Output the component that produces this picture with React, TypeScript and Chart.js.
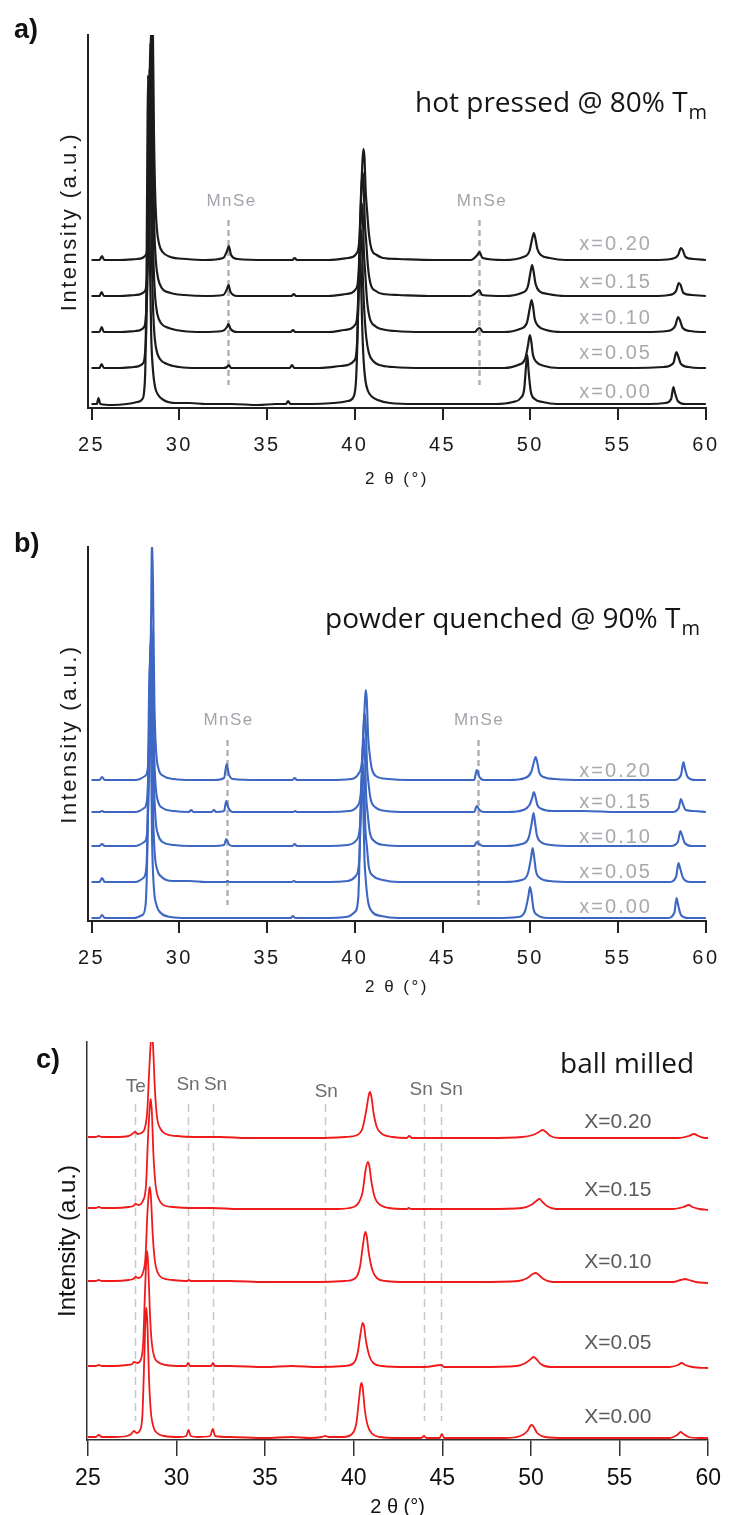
import React, { useEffect, useRef } from "react";
import { Chart, registerables } from "chart.js";

Chart.register(...registerables);

type Pt = [number, number];

// ---------- shared axis data ----------
const X_TICKS = [25, 30, 35, 40, 45, 50, 55, 60];
const X_LABELS_LOWER = ["x=0.00", "x=0.05", "x=0.10", "x=0.15", "x=0.20"];
const X_LABELS_UPPER = ["X=0.00", "X=0.05", "X=0.10", "X=0.15", "X=0.20"];

// ---------- a) hot pressed @ 80% Tm (2θ, intensity above own baseline) ----------
const hotPressed000: Pt[] = [[25,1],[25.3,1],[25.4,7],[25.5,1],[26.2,0],[27,1],[27.6,3],[27.9,6],[28.0,14],[28.07,40],[28.13,120],[28.18,250],[28.22,330],[28.27,260],[28.33,140],[28.4,70],[28.5,35],[28.62,18],[28.8,10],[29.1,5],[29.8,2],[30.6,2],[31.5,1],[33,1],[34.5,0],[35.5,1],[36.08,1],[36.2,4],[36.32,1],[37.5,1],[38.8,2],[39.6,4],[39.95,9],[40.07,25],[40.15,65],[40.22,120],[40.28,150],[40.34,135],[40.41,85],[40.5,45],[40.6,25],[40.75,14],[41.0,8],[41.3,5],[42,2],[43.5,1],[45,1],[46.5,1],[48,1],[49,3],[49.45,7],[49.65,16],[49.76,40],[49.83,50],[49.9,34],[50.02,14],[50.25,6],[50.7,3],[51.5,1],[53,1],[55,1],[56.8,1],[57.7,2],[58.02,6],[58.15,18],[58.24,12],[58.4,4],[58.8,1],[59.5,1],[60,1]];
const hotPressed005: Pt[] = [[25,1],[25.45,1],[25.58,5],[25.7,1],[26.5,1],[27.4,2],[27.95,6],[28.05,16],[28.13,45],[28.2,130],[28.26,240],[28.3,300],[28.35,250],[28.41,140],[28.48,75],[28.57,38],[28.7,19],[28.9,10],[29.3,5],[30,2],[31,1],[32.5,1],[32.72,2],[32.82,4],[32.95,1],[34,1],[35.5,1],[36.3,1],[36.42,4],[36.55,1],[38,1],[39.2,3],[40.0,9],[40.12,24],[40.2,65],[40.28,115],[40.34,140],[40.4,128],[40.47,85],[40.55,55],[40.65,32],[40.8,16],[41.1,7],[41.4,4],[42.2,2],[44,1],[46,1],[47.05,1],[48.5,1],[49.3,4],[49.7,10],[49.87,24],[49.97,34],[50.05,28],[50.15,14],[50.35,7],[50.8,3],[51.6,1],[53.5,1],[56,1],[57.6,2],[58.15,6],[58.32,17],[58.42,13],[58.58,5],[59,2],[59.6,1],[60,1]];
const hotPressed010: Pt[] = [[25,1],[25.45,1],[25.58,6],[25.7,1],[26.6,1],[27.5,2],[28.0,6],[28.1,17],[28.18,48],[28.25,135],[28.31,250],[28.35,290],[28.4,240],[28.46,135],[28.53,72],[28.62,37],[28.75,19],[28.95,10],[29.4,5],[30.2,2],[31.3,1],[32.45,2],[32.72,6],[32.8,9],[32.92,4],[33.3,1],[35,1],[36.35,1],[36.48,3],[36.6,1],[38.5,1],[39.4,3],[40.05,9],[40.17,25],[40.25,68],[40.33,110],[40.39,130],[40.45,120],[40.52,80],[40.6,58],[40.7,32],[40.85,15],[41.15,7],[41.5,4],[42.3,2],[44,1],[45.5,1],[46.85,1],[47.0,4],[47.12,5],[47.3,1],[48.5,1],[49.4,4],[49.8,10],[49.97,25],[50.07,33],[50.15,27],[50.25,14],[50.45,7],[50.9,3],[51.8,1],[54,1],[56.5,1],[57.8,2],[58.25,7],[58.42,16],[58.52,13],[58.68,5],[59.1,2],[59.7,1],[60,1]];
const hotPressed015: Pt[] = [[25,1],[25.45,1],[25.58,5],[25.7,1],[26.6,1],[27.5,2],[28.05,6],[28.15,18],[28.23,50],[28.3,140],[28.36,240],[28.4,270],[28.45,230],[28.51,130],[28.58,68],[28.67,35],[28.8,18],[29.0,9],[29.5,4],[30.3,2],[31.5,1],[32.5,2],[32.72,8],[32.8,12],[32.92,5],[33.3,1],[35,1],[36.4,1],[36.52,3],[36.65,1],[38.5,1],[39.5,3],[40.1,9],[40.22,25],[40.3,68],[40.38,108],[40.44,125],[40.5,115],[40.57,75],[40.65,55],[40.75,30],[40.9,13],[41.2,6],[41.6,3],[42.5,2],[44.5,1],[46.6,1],[46.95,5],[47.08,7],[47.25,2],[48.5,1],[49.5,4],[49.85,10],[50.0,24],[50.1,32],[50.18,26],[50.3,13],[50.5,6],[51,3],[52,1],[54.5,1],[57,1],[57.9,2],[58.3,6],[58.46,14],[58.56,12],[58.72,4],[59.2,2],[60,1]];
const hotPressed020: Pt[] = [[25,1],[25.45,1],[25.6,5],[25.72,1],[26.6,1],[27.6,2],[28.1,6],[28.2,18],[28.28,50],[28.35,140],[28.41,230],[28.45,260],[28.5,225],[28.56,125],[28.63,65],[28.72,33],[28.85,17],[29.05,9],[29.5,4],[30.4,2],[31.5,1],[32.5,3],[32.72,10],[32.82,15],[32.95,6],[33.3,2],[35,1],[36.45,1],[36.57,3],[36.7,1],[38.5,1],[39.6,3],[40.15,9],[40.27,25],[40.35,65],[40.43,98],[40.49,112],[40.55,104],[40.62,70],[40.7,50],[40.8,28],[40.95,12],[41.25,6],[41.6,3],[42.5,2],[44.5,1],[46.6,1],[46.98,6],[47.1,9],[47.28,3],[48.5,1],[49.6,4],[49.95,10],[50.1,22],[50.2,28],[50.28,23],[50.4,12],[50.6,6],[51.1,3],[52,1],[54.5,1],[57,1],[58,2],[58.42,6],[58.58,13],[58.68,11],[58.84,4],[59.3,2],[60,1]];
const hotPressedOffsets = [0, 36, 72, 108, 144];
const hotPressedMnSe = [32.75, 47.05];

// ---------- b) powder quenched @ 90% Tm ----------
const quenched000: Pt[] = [[25,1],[25.45,1],[25.6,4],[25.75,1],[26.5,1],[27.4,1],[27.9,4],[28.08,14],[28.18,70],[28.26,200],[28.32,260],[28.38,190],[28.45,80],[28.55,32],[28.7,14],[28.95,6],[29.5,2],[30.5,1],[32,1],[34,1],[36.35,1],[36.48,3],[36.6,1],[38.5,1],[39.5,2],[40.0,7],[40.2,22],[40.32,100],[40.4,140],[40.47,120],[40.55,60],[40.62,40],[40.75,18],[41,7],[41.5,3],[42.5,1],[45,1],[48,1],[49.3,2],[49.7,8],[49.88,22],[49.98,32],[50.06,26],[50.18,10],[50.4,4],[51,1],[53,1],[56,1],[57.8,1],[58.2,6],[58.33,21],[58.42,14],[58.58,4],[59,1],[60,1]];
const quenched005: Pt[] = [[25,1],[25.45,1],[25.6,5],[25.75,1],[26.5,1],[27.5,1],[27.95,5],[28.12,15],[28.22,75],[28.3,190],[28.36,240],[28.42,180],[28.5,75],[28.6,30],[28.75,13],[29,6],[29.6,2],[30.6,2],[31.5,1],[32.65,1],[32.75,2],[32.85,1],[34.5,1],[36.4,1],[36.52,2],[36.65,1],[38.5,1],[39.6,2],[40.05,7],[40.25,22],[40.37,90],[40.45,120],[40.52,105],[40.6,55],[40.68,38],[40.8,16],[41.05,7],[41.6,3],[42.5,1],[45,1],[47,1],[48.5,1],[49.5,3],[49.85,9],[50.03,24],[50.13,35],[50.2,28],[50.32,12],[50.55,5],[51.1,2],[52.5,1],[55.5,1],[57.9,1],[58.3,6],[58.44,20],[58.53,15],[58.7,5],[59.1,1],[60,1]];
const quenched010: Pt[] = [[25,1],[25.45,1],[25.6,3],[25.75,1],[26.5,1],[27.5,1],[28,5],[28.17,14],[28.27,70],[28.35,175],[28.41,215],[28.47,165],[28.55,70],[28.65,28],[28.8,12],[29.05,5],[29.7,2],[30.6,1],[32,1],[32.55,2],[32.68,8],[32.78,4],[33,1],[34.5,1],[36.45,1],[36.57,3],[36.7,1],[38.5,1],[39.6,2],[40.1,7],[40.3,22],[40.43,85],[40.5,110],[40.57,95],[40.65,50],[40.73,34],[40.85,15],[41.1,6],[41.7,2],[42.8,1],[45,1],[46.8,1],[46.95,5],[47.08,3],[47.3,1],[48.6,1],[49.5,3],[49.9,9],[50.08,24],[50.18,34],[50.25,27],[50.37,12],[50.6,5],[51.2,2],[52.5,1],[55.5,1],[58,1],[58.4,5],[58.55,16],[58.64,12],[58.8,4],[59.2,1],[60,1]];
const quenched015: Pt[] = [[25,1],[25.45,1],[25.6,2],[25.75,1],[26.5,1],[27.5,1],[28,5],[28.17,14],[28.27,65],[28.36,160],[28.42,190],[28.48,150],[28.56,65],[28.66,26],[28.8,11],[29.05,5],[29.7,2],[30.55,1],[30.68,3],[30.8,1],[31.85,1],[31.97,3],[32.1,1],[32.55,2],[32.68,12],[32.8,5],[33.05,1],[34.5,1],[36.5,1],[36.6,2],[36.7,1],[38.5,1],[39.7,2],[40.15,7],[40.35,22],[40.48,80],[40.55,100],[40.62,88],[40.7,46],[40.78,30],[40.9,14],[41.15,6],[41.8,2],[43,1],[45,1],[46.8,1],[46.95,7],[47.1,3],[47.35,1],[48.7,1],[49.6,3],[49.95,8],[50.12,16],[50.2,21],[50.28,17],[50.4,8],[50.65,4],[51.3,2],[53,2],[55,1],[57,1],[58.1,1],[58.45,5],[58.58,14],[58.67,10],[58.85,3],[59.3,2],[60,1]];
const quenched020: Pt[] = [[25,1],[25.45,1],[25.6,4],[25.75,1],[26.5,1],[27.5,1],[28.05,5],[28.22,15],[28.32,70],[28.4,170],[28.44,245],[28.5,200],[28.58,80],[28.68,30],[28.82,12],[29.1,5],[29.7,2],[30.7,1],[32,1],[32.55,3],[32.7,17],[32.82,7],[33.05,2],[34.5,1],[36.45,1],[36.57,3],[36.7,1],[38.5,1],[39.8,2],[40.2,7],[40.42,22],[40.55,70],[40.62,91],[40.68,82],[40.76,44],[40.84,28],[40.96,13],[41.2,5],[41.9,2],[43,1],[45,1],[46.8,1],[46.95,11],[47.1,4],[47.35,1],[48.8,1],[49.7,3],[50.05,9],[50.22,20],[50.3,24],[50.38,20],[50.5,9],[50.75,4],[51.4,2],[53,1],[55.5,1],[58.2,1],[58.58,6],[58.72,19],[58.8,13],[58.96,4],[59.4,1],[60,1]];
const quenchedOffsets = [0, 36, 72, 106, 138];
const quenchedMnSe = [32.7, 47.0];

// ---------- c) ball milled ----------
const ballMilled000: Pt[] = [[25,2],[25.45,2],[25.6,4],[25.8,2],[26.5,2],[27.2,3],[27.45,5],[27.6,8],[27.75,6],[27.95,9],[28.08,25],[28.18,80],[28.26,125],[28.3,131],[28.36,115],[28.45,60],[28.55,28],[28.7,12],[28.9,6],[29.3,3],[30.2,2],[30.55,3],[30.68,9],[30.8,3],[31.2,2],[31.9,3],[32.05,10],[32.18,3],[33,2],[35,1],[36.5,2],[37.5,1],[38.2,2],[38.4,3],[38.6,2],[39.4,2],[39.9,5],[40.15,16],[40.3,40],[40.42,56],[40.5,52],[40.62,30],[40.78,14],[41,6],[41.5,2],[42.5,1],[43.8,1],[43.97,3],[44.1,1],[44.85,1],[44.97,5],[45.1,1],[46.5,1],[48.5,1],[49.4,3],[49.8,8],[50.02,14],[50.12,13],[50.35,6],[50.8,2],[52,1],[54,1],[56,1],[57.8,1],[58.25,4],[58.45,7],[58.6,5],[58.9,2],[59.5,1],[60,1]];
const ballMilled005: Pt[] = [[25,2],[25.45,2],[25.6,3],[25.8,2],[26.5,2],[27.2,3],[27.5,4],[27.62,6],[27.8,5],[28.0,9],[28.12,25],[28.22,75],[28.3,110],[28.35,117],[28.41,100],[28.5,55],[28.6,26],[28.75,11],[28.95,6],[29.4,3],[30.3,2],[30.55,2],[30.65,5],[30.78,2],[31.5,2],[31.95,2],[32.05,5],[32.17,2],[33,2],[35,1],[36.5,2],[38,1],[39.5,2],[40.0,5],[40.22,15],[40.38,34],[40.5,45],[40.58,42],[40.7,26],[40.88,12],[41.1,5],[41.6,2],[43,1],[44,1],[44.95,3],[45.1,1],[47,1],[49.2,2],[49.7,5],[50.0,9],[50.15,11],[50.3,9],[50.55,4],[51.1,1],[53,1],[56,1],[57.8,1],[58.3,3],[58.5,5],[58.7,3],[59.1,1],[60,0]];
const ballMilled010: Pt[] = [[25,2],[25.45,2],[25.6,3],[25.8,2],[26.5,2],[27.3,3],[27.55,4],[27.7,6],[27.85,5],[28.1,10],[28.25,26],[28.36,70],[28.45,92],[28.5,96],[28.56,85],[28.66,48],[28.78,22],[28.95,10],[29.2,5],[29.8,3],[30.6,2],[30.7,3],[30.8,2],[31.8,2],[33,2],[35,1],[36.5,1],[38,1],[39.5,2],[40.1,5],[40.35,16],[40.52,38],[40.65,51],[40.73,47],[40.85,30],[41.05,13],[41.3,5],[41.8,2],[43,1],[45,1],[47,1],[49.3,2],[49.8,5],[50.1,9],[50.28,10],[50.45,8],[50.7,4],[51.2,1],[53,1],[56,1],[58,1],[58.45,3],[58.7,4],[58.9,3],[59.3,1],[60,0]];
const ballMilled015: Pt[] = [[25,2],[25.45,2],[25.6,3],[25.8,2],[26.5,2],[27.3,3],[27.55,4],[27.7,6],[27.85,5],[28.1,9],[28.28,25],[28.4,75],[28.5,105],[28.55,111],[28.61,98],[28.7,55],[28.82,25],[29.0,11],[29.25,5],[29.8,3],[30.8,2],[32,2],[33.5,1],[35,1],[37,1],[39,1],[40,3],[40.3,8],[40.5,18],[40.67,40],[40.8,48],[40.88,44],[41.0,28],[41.2,12],[41.5,5],[42,2],[43,1],[43.1,2],[43.25,1],[45,1],[47.5,1],[49.5,2],[50.0,5],[50.3,9],[50.48,11],[50.65,8],[50.9,4],[51.4,1],[53,1],[56,1],[58,1],[58.6,3],[58.9,5],[59.1,3],[59.5,1],[60,0]];
const ballMilled020: Pt[] = [[25,2],[25.45,2],[25.6,3],[25.8,2],[26.5,2],[27.3,3],[27.5,5],[27.65,7],[27.82,5],[28.0,6],[28.2,10],[28.35,28],[28.47,72],[28.56,100],[28.62,105],[28.68,92],[28.78,50],[28.9,22],[29.1,10],[29.4,5],[30,3],[31,2],[32.5,2],[34,1],[36,1],[38,1],[39.5,2],[40.2,4],[40.5,11],[40.7,28],[40.85,44],[40.92,47],[41.0,42],[41.12,26],[41.3,12],[41.6,5],[42.2,2],[43,1],[43.12,3],[43.3,1],[45,1],[47.5,1],[49.5,2],[50.1,4],[50.45,7],[50.65,9],[50.85,7],[51.1,3],[51.6,1],[53,1],[56,1],[58.3,1],[58.9,3],[59.2,5],[59.45,3],[59.8,1],[60,1]];
const ballMilledOffsets = [0, 71, 156, 229, 300];
const ballMilledPhases = [27.65, 30.67, 32.07, 38.4, 43.97, 44.93];
const ballMilledPhaseNames = ["Te", "Sn", "Sn", "Sn", "Sn", "Sn"];

// ---------- layout / style ----------
interface Panel {
  key: string;
  canvasTop: number;
  canvasHeight: number;
  areaTop: number;
  areaBottom: number;
  areaLeft: number;
  areaRight: number;
  xMin: number;
  yMin: number;
  series: Pt[][];
  offsets: number[];
  labels: string[];
  labelX: number;
  labelLift: number[];
  labelFont: string;
  labelColor: string;
  labelSpacing: string;
  color: string;
  lineWidth: number;
  axisColor: string;
  axisWidth: number;
  tickLen: number;
  tickFamily: string;
  tickSize: number;
  tickPad: number;
  textColor: string;
  axisSpacing: string;
  xTitleSize: number;
  xTitleLH: number;
  xTitlePad: number;
  yTitleSize: number;
  yTitlePad: number;
  markers: number[];
  markerFrom: number;
  markerTo: number;
  markerColor: string;
  markerWidth: number;
  markerDash: number[];
  markerNames: string[];
  markerNameX: number[];
  markerNameY: number[];
  markerFont: string;
  markerNameColor: string;
  markerSpacing: string;
  letter: string;
  letterX: number;
  letterY: number;
  title: string;
  titleSub: string;
  titleX: number;
  titleY: number;
  titleSize: number;
}

const PANELS: Panel[] = [
  {
    key: "a", canvasTop: 0, canvasHeight: 505,
    areaTop: 35, areaBottom: 408, areaLeft: 88, areaRight: 712,
    xMin: 24.8, yMin: -3,
    series: [hotPressed000, hotPressed005, hotPressed010, hotPressed015, hotPressed020],
    offsets: hotPressedOffsets,
    labels: X_LABELS_LOWER, labelX: 54.86, labelLift: [13, 16, 15, 15, 17],
    labelFont: '20px "Liberation Sans"', labelColor: "#a8a8af", labelSpacing: "2px",
    color: "#1b1b1b", lineWidth: 2.2,
    axisColor: "#222222", axisWidth: 2, tickLen: 12,
    tickFamily: '"Liberation Sans"', tickSize: 20, tickPad: 13, textColor: "#1a1a1a", axisSpacing: "2.5px",
    xTitleSize: 17, xTitleLH: 1.2, xTitlePad: 15,
    yTitleSize: 22, yTitlePad: 57,
    markers: hotPressedMnSe, markerFrom: 20, markerTo: 185,
    markerColor: "#b3b3b3", markerWidth: 2.5, markerDash: [6, 4],
    markerNames: ["MnSe", "MnSe"], markerNameX: [32.98, 47.25], markerNameY: [204, 204],
    markerFont: '17px "Liberation Sans"', markerNameColor: "#a3a3ab", markerSpacing: "1.5px",
    letter: "a)", letterX: 14, letterY: 38,
    title: "hot pressed @ 80% T", titleSub: "m", titleX: 415, titleY: 112, titleSize: 28,
  },
  {
    key: "b", canvasTop: 505, canvasHeight: 505,
    areaTop: 547, areaBottom: 921, areaLeft: 88, areaRight: 712,
    xMin: 24.8, yMin: -2,
    series: [quenched000, quenched005, quenched010, quenched015, quenched020],
    offsets: quenchedOffsets,
    labels: X_LABELS_LOWER, labelX: 54.86, labelLift: [12, 11, 10, 11, 10],
    labelFont: '20px "Liberation Sans"', labelColor: "#a8a8af", labelSpacing: "2px",
    color: "#3d67c3", lineWidth: 2.1,
    axisColor: "#222222", axisWidth: 2, tickLen: 12,
    tickFamily: '"Liberation Sans"', tickSize: 20, tickPad: 13, textColor: "#1a1a1a", axisSpacing: "2.5px",
    xTitleSize: 17, xTitleLH: 1.2, xTitlePad: 12,
    yTitleSize: 22, yTitlePad: 57,
    markers: quenchedMnSe, markerFrom: 14, markerTo: 179,
    markerColor: "#b3b3b3", markerWidth: 2.5, markerDash: [6, 4],
    markerNames: ["MnSe", "MnSe"], markerNameX: [32.81, 47.08], markerNameY: [199, 199],
    markerFont: '17px "Liberation Sans"', markerNameColor: "#a3a3ab", markerSpacing: "1.5px",
    letter: "b)", letterX: 14, letterY: 552,
    title: "powder quenched @ 90% T", titleSub: "m", titleX: 325, titleY: 628, titleSize: 28,
  },
  {
    key: "c", canvasTop: 1010, canvasHeight: 505,
    areaTop: 1042, areaBottom: 1440, areaLeft: 87, areaRight: 711,
    xMin: 24.95, yMin: -1,
    series: [ballMilled000, ballMilled005, ballMilled010, ballMilled015, ballMilled020],
    offsets: ballMilledOffsets,
    labels: X_LABELS_UPPER, labelX: 54.9, labelLift: [22, 25, 21, 20, 17],
    labelFont: '21px "Liberation Sans"', labelColor: "#5b5b5b", labelSpacing: "0px",
    color: "#f01a1a", lineWidth: 1.8,
    axisColor: "#333333", axisWidth: 1.5, tickLen: 16,
    tickFamily: '"Liberation Sans Narrow", "Liberation Sans"', tickSize: 23, tickPad: 9, textColor: "#111111", axisSpacing: "0px",
    xTitleSize: 20, xTitleLH: 0.8, xTitlePad: 0,
    yTitleSize: 24, yTitlePad: 54,
    markers: ballMilledPhases, markerFrom: 18, markerTo: 335,
    markerColor: "#c8c8c8", markerWidth: 1.5, markerDash: [8, 5],
    markerNames: ballMilledPhaseNames, markerNameX: [27.7, 30.65, 32.2, 38.45, 43.8, 45.5],
    markerNameY: [352, 354, 354, 347, 349, 349],
    markerFont: '19px "Liberation Sans"', markerNameColor: "#6d6d6d", markerSpacing: "0px",
    letter: "c)", letterX: 36, letterY: 1068,
    title: "ball milled", titleSub: "", titleX: 560, titleY: 1073, titleSize: 28,
  },
];

function drawLabel(ctx: any, text: string, x: number, y: number, font: string, color: string, spacing: string, align = "center", baseline = "middle") {
  ctx.save();
  ctx.font = font;
  ctx.fillStyle = color;
  ctx.textAlign = align;
  ctx.textBaseline = baseline;
  ctx.letterSpacing = spacing;
  ctx.fillText(text, x, y);
  ctx.restore();
}

function makePlugin(p: Panel) {
  return {
    id: "decor_" + p.key,
    beforeDraw(chart: any) {
      chart.ctx.letterSpacing = p.axisSpacing;
    },
    beforeDatasetsDraw(chart: any) {
      const ctx = chart.ctx;
      ctx.letterSpacing = "0px";
      const xs = chart.scales.x;
      const ys = chart.scales.y;
      ctx.save();
      ctx.strokeStyle = p.markerColor;
      ctx.lineWidth = p.markerWidth;
      ctx.setLineDash(p.markerDash);
      p.markers.forEach((m) => {
        const x = Math.round(xs.getPixelForValue(m)) + 0.5;
        ctx.beginPath();
        ctx.moveTo(x, ys.getPixelForValue(p.markerTo));
        ctx.lineTo(x, ys.getPixelForValue(p.markerFrom));
        ctx.stroke();
      });
      ctx.restore();
    },
    afterDraw(chart: any) {
      const ctx = chart.ctx;
      ctx.letterSpacing = "0px";
      const xs = chart.scales.x;
      const ys = chart.scales.y;
      const top = p.canvasTop;
      p.labels.forEach((t, i) => {
        drawLabel(ctx, t, xs.getPixelForValue(p.labelX), ys.getPixelForValue(p.offsets[i] + p.labelLift[i]), p.labelFont, p.labelColor, p.labelSpacing);
      });
      p.markerNames.forEach((t, i) => {
        drawLabel(ctx, t, xs.getPixelForValue(p.markerNameX[i]), ys.getPixelForValue(p.markerNameY[i]), p.markerFont, p.markerNameColor, p.markerSpacing);
      });
      drawLabel(ctx, p.letter, p.letterX, p.letterY - top, 'bold 27px "Liberation Sans"', "#111111", "0px", "left", "alphabetic");
      const titleFont = `${p.titleSize}px "Open Sans"`;
      drawLabel(ctx, p.title, p.titleX, p.titleY - top, titleFont, "#151515", "0px", "left", "alphabetic");
      if (p.titleSub) {
        ctx.save();
        ctx.font = titleFont;
        const w = ctx.measureText(p.title).width;
        ctx.restore();
        drawLabel(ctx, p.titleSub, p.titleX + w + 1, p.titleY - top + 7, `${Math.round(p.titleSize * 0.72)}px "Open Sans"`, "#151515", "0px", "left", "alphabetic");
      }
    },
  };
}

function buildConfig(p: Panel): any {
  const plotHeight = p.areaBottom - p.areaTop;
  return {
    type: "line",
    data: {
      datasets: p.series.map((s, i) => ({
        data: s.map(([x, y]) => ({ x, y: y + p.offsets[i] })),
        borderColor: p.color,
        borderWidth: p.lineWidth,
        pointRadius: 0,
        fill: false,
        cubicInterpolationMode: "monotone",
        tension: 0.4,
      })),
    },
    options: {
      responsive: false,
      animation: false,
      events: [],
      layout: { padding: { top: p.areaTop - p.canvasTop, right: 730 - p.areaRight, bottom: 0, left: 0 } },
      plugins: { legend: { display: false }, tooltip: { enabled: false }, title: { display: false } },
      scales: {
        x: {
          type: "linear",
          min: p.xMin,
          max: 60,
          afterBuildTicks: (s: any) => { s.ticks = X_TICKS.map((v) => ({ value: v })); },
          afterFit: (s: any) => { s.height = p.canvasTop + p.canvasHeight - p.areaBottom; },
          ticks: {
            autoSkip: false, maxRotation: 0, padding: p.tickPad, color: p.textColor,
            font: { family: p.tickFamily, size: p.tickSize },
            callback: (v: any) => String(v),
          },
          grid: { display: true, drawOnChartArea: false, drawTicks: true, tickLength: p.tickLen, color: p.axisColor, lineWidth: p.axisWidth },
          border: { display: true, color: p.axisColor, width: p.axisWidth },
          title: {
            display: true, text: "2 θ (°)", color: p.textColor,
            font: { family: p.tickFamily, size: p.xTitleSize, lineHeight: p.xTitleLH },
            padding: { top: 0, bottom: p.xTitlePad },
          },
        },
        y: {
          type: "linear",
          min: p.yMin,
          max: p.yMin + plotHeight,
          afterFit: (s: any) => { s.width = p.areaLeft; },
          ticks: { display: false },
          grid: { display: false },
          border: { display: true, color: p.axisColor, width: p.axisWidth },
          title: {
            display: true, text: "Intensity (a.u.)", color: p.textColor,
            font: { family: p.tickFamily, size: p.yTitleSize, lineHeight: 1.2 },
            padding: { top: p.yTitlePad, bottom: 0 },
          },
        },
      },
    },
    plugins: [makePlugin(p)],
  };
}

function PanelChart({ panel }: { panel: Panel }) {
  const ref = useRef<HTMLCanvasElement | null>(null);
  useEffect(() => {
    if (!ref.current) return;
    const chart = new Chart(ref.current, buildConfig(panel));
    return () => chart.destroy();
  }, [panel]);
  return (
    <canvas
      ref={ref}
      width={730}
      height={panel.canvasHeight}
      style={{ position: "absolute", left: 0, top: panel.canvasTop, width: 730, height: panel.canvasHeight }}
    />
  );
}

export default function App() {
  return (
    <div style={{ position: "absolute", left: 0, top: 0, width: 730, height: 1515, background: "#ffffff", overflow: "hidden" }}>
      {PANELS.map((p) => (
        <PanelChart key={p.key} panel={p} />
      ))}
    </div>
  );
}
